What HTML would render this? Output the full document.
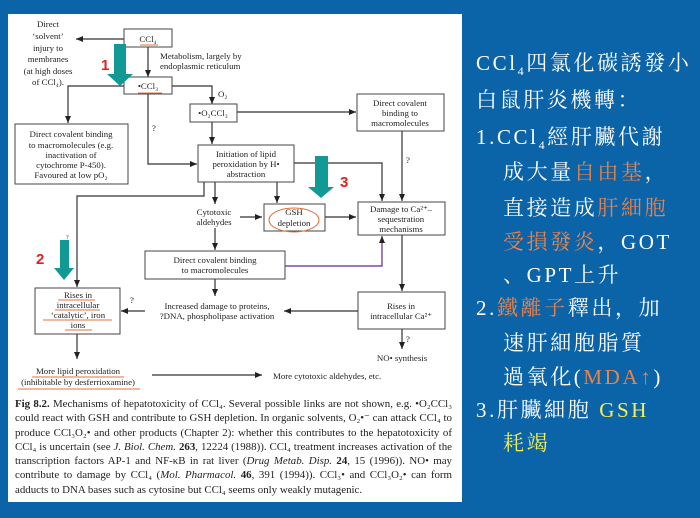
<!DOCTYPE html>
<html><head><meta charset="utf-8"><style>
html,body{margin:0;padding:0}
body{width:700px;height:518px;background:#0b63a8;position:relative;overflow:hidden;font-family:"Liberation Serif",serif}
#panel{position:absolute;left:8px;top:14px;width:454px;height:488px;background:#fff}
.t{position:absolute;left:476px;color:#fff;font-family:"Liberation Serif","Noto Serif CJK SC","Noto Sans CJK TC",serif;font-size:21px;letter-spacing:2.6px;white-space:nowrap;line-height:24px}
.o{color:#e8834a}.y{color:#f2f05a}
.cap{position:absolute;left:15px;top:397px;width:437px;font-size:10.9px;line-height:14.3px;text-align:justify;color:#222}
</style></head><body>
<div id="panel"></div>
<svg width="700" height="518" style="position:absolute;left:0;top:0" font-family="Liberation Serif,serif" font-size="8.8" fill="#222">
<defs><marker id="a" markerWidth="8" markerHeight="8" refX="7" refY="4" orient="auto" markerUnits="userSpaceOnUse"><path d="M0,1 L7,4 L0,7z" fill="#222"/></marker></defs>
<g stroke="#333" stroke-width="1.2" fill="none" marker-end="url(#a)">
<path d="M124,39 H76"/><path d="M148,47 V77"/>
<path d="M124,86 H68 V123"/><path d="M172,86 H212 V104"/>
<path d="M237,112 H356"/><path d="M148,94 V164 H197"/>
<path d="M212,122 V144"/><path d="M294,163 H382 V201"/>
<path d="M402,131 V201"/><path d="M204,182 V196 H77 V287"/>
<path d="M215,182 V204"/><path d="M277,182 V203"/>
<path d="M240,217 H262"/><path d="M325,217 H356"/>
<path d="M215,228 V250"/><path d="M402,235 V291"/>
<path d="M358,311 H284"/><path d="M215,279 V296"/>
<path d="M145,311 H121"/><path d="M77,334 V359"/>
<path d="M152,375 H262"/><path d="M402,329 V349"/>
<path d="M285,266 H382 V236" stroke="#5a2a8a"/>
</g>
<g stroke="#444" fill="#fff" stroke-width="1">
<rect x="124" y="29" width="48" height="18"/><rect x="124" y="77" width="48" height="17"/>
<rect x="15" y="124" width="113" height="60"/><rect x="190" y="104" width="47" height="18"/>
<rect x="357" y="94" width="87" height="37"/><rect x="198" y="145" width="96" height="37"/>
<rect x="358" y="202" width="87" height="33"/><rect x="264" y="204" width="61" height="27"/>
<rect x="145" y="251" width="140" height="28"/><rect x="358" y="292" width="87" height="37"/>
<rect x="35" y="288" width="85" height="46"/>
</g>
<g text-anchor="middle">
<text x="48" y="27">Direct</text><text x="48" y="39">‘solvent’</text><text x="48" y="51">injury to</text><text x="48" y="62">membranes</text><text x="48" y="74">(at high doses</text><text x="48" y="85">of CCl₄).</text>
<text x="148" y="42">CCl₄</text><text x="148" y="89">•CCl₃</text>
<text x="213" y="116">•O₂CCl₃</text>
<text x="71" y="137">Direct covalent binding</text><text x="71" y="148">to macromolecules (e.g.</text><text x="71" y="158">inactivation of</text><text x="71" y="168">cytochrome P-450).</text><text x="71" y="178">Favoured at low pO₂</text>
<text x="400" y="106">Direct covalent</text><text x="400" y="116">binding to</text><text x="400" y="126">macromolecules</text>
<text x="246" y="157">Initiation of lipid</text><text x="246" y="167">peroxidation by H•</text><text x="246" y="177">abstraction</text>
<text x="214" y="215">Cytotoxic</text><text x="214" y="225">aldehydes</text>
<text x="294" y="215">GSH</text><text x="294" y="226">depletion</text>
<text x="401" y="212">Damage to Ca²⁺–</text><text x="401" y="222">sequestration</text><text x="401" y="232">mechanisms</text>
<text x="215" y="263">Direct covalent binding</text><text x="215" y="273">to macromolecules</text>
<text x="217" y="309">Increased damage to proteins,</text><text x="217" y="319">?DNA, phospholipase activation</text>
<text x="401" y="309">Rises in</text><text x="401" y="319">intracellular Ca²⁺</text>
<text x="78" y="298">Rises in</text><text x="78" y="308">intracellular</text><text x="78" y="318">‘catalytic’, iron</text><text x="78" y="328">ions</text>
<text x="78" y="374">More lipid peroxidation</text><text x="78" y="385">(inhibitable by desferrioxamine)</text>
<text x="402" y="361">NO• synthesis</text>
</g>
<text x="160" y="59">Metabolism, largely by</text><text x="160" y="69">endoplasmic reticulum</text>
<text x="218" y="97">O₂</text><text x="152" y="131">?</text><text x="406" y="163">?</text>
<text x="130" y="303">?</text><text x="406" y="342">?</text><text x="66" y="239" font-size="6">?</text>
<text x="273" y="379">More cytotoxic aldehydes, etc.</text>
<g stroke="#e0703a" stroke-width="1" fill="none">
<path d="M140,45 H158"/><path d="M138,93 H162"/>
<ellipse cx="294" cy="220" rx="25" ry="12"/>
<path d="M58,300 H95"/><path d="M55,310 H100"/><path d="M43,320 H112"/><path d="M65,330 H92"/>
<path d="M32,377 H124"/><path d="M18,389 H140"/>
</g>
<g fill="#119a95">
<path d="M114,44 H126 V74 H133 L120,86 L107,74 H114z"/>
<path d="M315,156 H328 V187 H334 L321,198 L308,187 H315z"/>
<path d="M60,240 H69 V268 H74 L64,280 L54,268 H60z"/>
</g>
<g fill="#e02020" font-family="Liberation Sans,sans-serif" font-weight="bold" font-size="15">
<text x="101" y="70">1</text><text x="340" y="187">3</text><text x="36" y="264">2</text>
</g>
</svg>
<div class="cap"><b>Fig 8.2.</b> Mechanisms of hepatotoxicity of CCl₄. Several possible links are not shown, e.g. •O₂CCl₃ could react with GSH and contribute to GSH depletion. In organic solvents, O₂•⁻ can attack CCl₄ to produce CCl₃O₂• and other products (Chapter 2): whether this contributes to the hepatotoxicity of CCl₄ is uncertain (see <i>J. Biol. Chem.</i> <b>263</b>, 12224 (1988)). CCl₄ treatment increases activation of the transcription factors AP-1 and NF-κB in rat liver (<i>Drug Metab. Disp.</i> <b>24</b>, 15 (1996)). NO• may contribute to damage by CCl₄ (<i>Mol. Pharmacol.</i> <b>46</b>, 391 (1994)). CCl₃• and CCl₃O₂• can form adducts to DNA bases such as cytosine but CCl₄ seems only weakly mutagenic.</div>
<div class="t" style="top:51px">CCl<sub style="font-size:12px">4</sub>四氯化碳誘發小</div>
<div class="t" style="top:88px">白鼠肝炎機轉：</div>
<div class="t" style="top:125px">1.CCl<sub style="font-size:12px">4</sub>經肝臟代謝</div>
<div class="t" style="top:160px;left:503px">成大量<span class="o">自由基</span>，</div>
<div class="t" style="top:196px;left:503px">直接造成<span class="o">肝細胞</span></div>
<div class="t" style="top:230px;left:503px"><span class="o">受損發炎</span>，GOT</div>
<div class="t" style="top:263px;left:503px">、GPT上升</div>
<div class="t" style="top:296px">2.<span class="o">鐵離子</span>釋出，加</div>
<div class="t" style="top:331px;left:503px">速肝細胞脂質</div>
<div class="t" style="top:365px;left:503px">過氧化(<span class="o">MDA↑</span>)</div>
<div class="t" style="top:398px">3.肝臟細胞 <span class="y">GSH</span></div>
<div class="t" style="top:431px;left:503px"><span class="y">耗竭</span></div>
</body></html>
